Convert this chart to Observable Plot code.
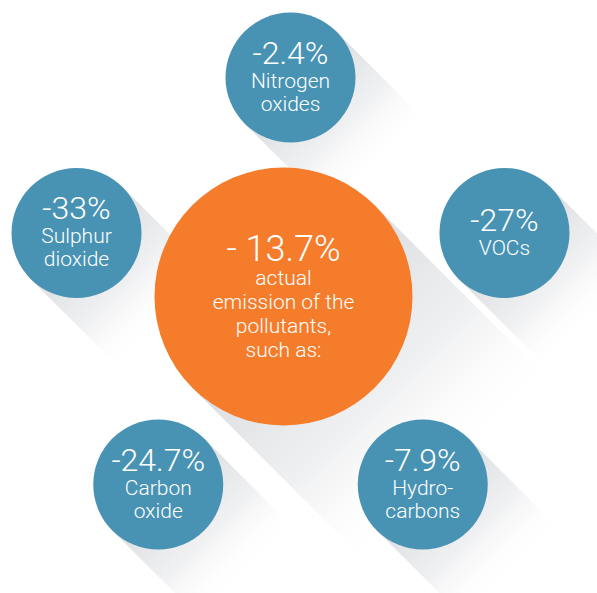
<!DOCTYPE html>
<html><head><meta charset="utf-8">
<script src="https://cdn.jsdelivr.net/npm/d3@7"></script>
<script src="https://cdn.jsdelivr.net/npm/@observablehq/plot@0.6"></script>
<style>body{margin:0;background:#fff;} svg{display:block;}</style>
</head><body><div id="chart"></div>
<script>
// ---- data ----
const pollutants = ["Nitrogen oxides", "VOCs", "Hydrocarbons", "Carbon oxide", "Sulphur dioxide"];
const labelLines = [["Nitrogen", "oxides"], ["VOCs"], ["Hydro-", "carbons"], ["Carbon", "oxide"], ["Sulphur", "dioxide"]];
const changes = [-2.4, -27, -7.9, -24.7, -33];
const total = -13.7;
const totalLines = ["actual", "emission of the", "pollutants,", "such as:"];

// ---- layout ----
const W = 597, H = 593;
const hub = {x: 283, y: 296, r: 129};
const ring = {x: 290, y: 302, R: 225, r: 65, start: -90, step: 72};
const shadow = {angle: 45, k: 1.95};
const blue = "#4893b3", orange = "#f47c2b";
const font = "Roboto, 'Open Sans', sans-serif";

const circles = changes.map((v, i) => {
  const a = (ring.start + i * ring.step) * Math.PI / 180;
  return {name: pollutants[i], value: v, lines: labelLines[i],
          x: ring.x + ring.R * Math.cos(a), y: ring.y + ring.R * Math.sin(a), r: ring.r};
});
const hubNode = {...hub, value: total, lines: totalLines};
const all = [hubNode, ...circles];

const sa = shadow.angle * Math.PI / 180;
const shadows = all.map(d => ({x1: d.x, y1: d.y,
  x2: d.x + shadow.k * d.r * Math.cos(sa), y2: d.y + shadow.k * d.r * Math.sin(sa), w: 2 * d.r}));

// text rows: big value line then label lines
const valueRows = [], labelRows = [];
circles.forEach(d => {
  const n = 1 + d.lines.length;
  const base = k => d.y + 10 + (k - (n - 1) / 2) * 23.5;
  valueRows.push({x: d.x, y: base(0), text: `${d.value}%`, size: 32});
  d.lines.forEach((t, j) => labelRows.push({x: d.x, y: base(j + 1), text: t, size: 21}));
});
{
  const n = 1 + hubNode.lines.length;
  const base = k => hubNode.y + 12 + (k - (n - 1) / 2) * 24;
  valueRows.push({x: hubNode.x, y: base(0), text: `- ${Math.abs(total)}%`, size: 36});
  hubNode.lines.forEach((t, j) => labelRows.push({x: hubNode.x, y: base(j + 1), text: t, size: 21}));
}

const chart = Plot.plot({
  width: W, height: H, margin: 0,
  x: {domain: [0, W], range: [0, W], axis: null},
  y: {domain: [0, H], range: [0, H], axis: null},
  r: {type: "identity"},
  marks: [
    Plot.link(shadows, {x1: "x1", y1: "y1", x2: "x2", y2: "y2",
      stroke: "url(#shadowGrad)", strokeWidth: "w", strokeOpacity: 1, strokeLinecap: "butt"}),
    Plot.dot(circles, {x: "x", y: "y", r: "r", fill: blue, stroke: null}),
    Plot.dot([hubNode], {x: "x", y: "y", r: "r", fill: orange, stroke: null}),
    Plot.text(valueRows, {x: "x", y: "y", text: "text", fontSize: "size", lineAnchor: "bottom",
      fill: "white", fontWeight: 300, fontFamily: font}),
    Plot.text(labelRows, {x: "x", y: "y", text: "text", fontSize: "size", lineAnchor: "bottom",
      fill: "white", fontWeight: 300, fontFamily: font})
  ]
});

const ns = "http://www.w3.org/2000/svg";
const defs = document.createElementNS(ns, "defs");
const grad = document.createElementNS(ns, "linearGradient");
grad.setAttribute("id", "shadowGrad");
grad.setAttribute("x1", "0"); grad.setAttribute("y1", "0");
grad.setAttribute("x2", "1"); grad.setAttribute("y2", "1");
[[0, "#d9dbde", 1], [0.55, "#eaebed", 0.75], [1, "#ffffff", 0]].forEach(([o, c, op]) => {
  const s = document.createElementNS(ns, "stop");
  s.setAttribute("offset", o); s.setAttribute("stop-color", c); s.setAttribute("stop-opacity", op);
  grad.appendChild(s);
});
defs.appendChild(grad);
chart.insertBefore(defs, chart.firstChild);
document.getElementById("chart").appendChild(chart);
</script>
</body></html>
